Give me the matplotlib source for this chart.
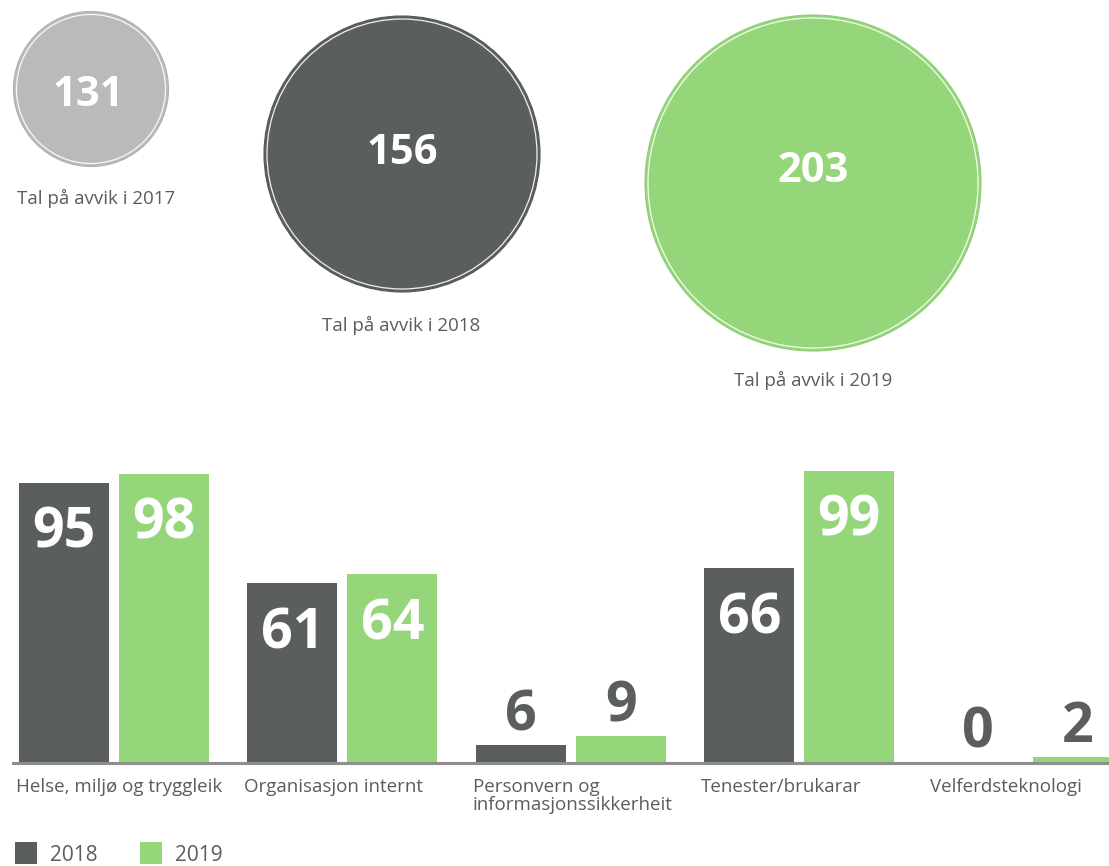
import matplotlib
matplotlib.use("Agg")
import matplotlib.pyplot as plt
from matplotlib.patches import Circle, Rectangle
import numpy as np

# ---------------- data ----------------
circle_years = ["2017", "2018", "2019"]
circle_totals = [131, 156, 203]
caption_prefix = "Tal på avvik i"

categories = ["Helse, miljø og tryggleik",
              "Organisasjon internt",
              "Personvern og\ninformasjonssikkerheit",
              "Tenester/brukarar",
              "Velferdsteknologi"]
series_names = ["2018", "2019"]
values_2018 = [95, 61, 6, 66, 0]
values_2019 = [98, 64, 9, 99, 2]

# ---------------- style ----------------
W, H, DPI = 1109, 866, 100
DARK = "#5b5e5f"
GREEN = "#96d67b"
LIGHT = "#bababa"
TEXT = "#5c5c5c"
AXIS = "#8e8e8e"
FONT = ["Open Sans", "DejaVu Sans"]
plt.rcParams["font.family"] = FONT

PX2PT = 72.0 / DPI

fig = plt.figure(figsize=(W / DPI, H / DPI), dpi=DPI)
fig.patch.set_facecolor("white")

# overlay axes in pixel coordinates (for circles, captions, legend)
ov = fig.add_axes([0, 0, 1, 1])
ov.set_xlim(0, W)
ov.set_ylim(H, 0)
ov.axis("off")

circle_fill = [LIGHT, DARK, GREEN]
circle_edge = ["#b0b0b0", "#555859", "#8ece73"]
circle_centers = [(91, 89), (402, 154), (813, 183)]
circle_radii = [77.5, 138, 168]
number_pos = [(88, 95), (402, 153), (813, 172)]
caption_pos = [(96, 198), (401, 325), (813, 380)]

for i, (year, total) in enumerate(zip(circle_years, circle_totals)):
    cx, cy = circle_centers[i]
    r = circle_radii[i]
    ov.add_patch(Circle((cx, cy), r, facecolor=circle_fill[i],
                        edgecolor=circle_edge[i], lw=0.8, zorder=2))
    ov.add_patch(Circle((cx, cy), r - 3, fill=False, edgecolor="white",
                        lw=0.9, alpha=0.9, zorder=3))
    nx, ny = number_pos[i]
    ov.text(nx, ny, str(total), ha="center", va="center", color="white",
            fontsize=30, fontweight="bold", zorder=4)
    tx, ty = caption_pos[i]
    ov.text(tx, ty, f"{caption_prefix} {year}", ha="center", va="center",
            color=TEXT, fontsize=13.5, zorder=4)

# ---------------- bar chart ----------------
base_px = 763
top_px = 440
px_per_unit = 2.95
group_px = 228.45
first_px = 114

ax = fig.add_axes([0, (H - base_px) / H, 1, (base_px - top_px) / H])
ax.patch.set_alpha(0)
ax.set_ylim(0, (base_px - top_px) / px_per_unit)
ax.set_xlim(-first_px / group_px, (W - first_px) / group_px)

x = np.arange(len(categories))
bw = 90 / group_px
off = 50 / group_px

ax.bar(x - off, values_2018, bw, color=DARK, zorder=2)
ax.bar(x + off, values_2019, bw, color=GREEN, zorder=2)

for s in ["top", "right", "left"]:
    ax.spines[s].set_visible(False)
ax.spines["bottom"].set_color(AXIS)
ax.spines["bottom"].set_linewidth(2.2)
ax.spines["bottom"].set_bounds(-(first_px - 13) / group_px, (W - first_px) / group_px)
ax.set_xticks([])
ax.set_yticks([])

for xs, vals in [(x - off, values_2018), (x + off, values_2019)]:
    for xi, v in zip(xs, vals):
        if v >= 20:
            ax.annotate(str(v), (xi, v), xytext=(0, -65 * PX2PT),
                        textcoords="offset points", ha="center", va="baseline",
                        color="white", fontsize=40, fontweight="bold", zorder=3)
        else:
            ax.annotate(str(v), (xi, v), xytext=(0, 15 * PX2PT),
                        textcoords="offset points", ha="center", va="baseline",
                        color=DARK, fontsize=40, fontweight="bold", zorder=3)

for xi, lab in zip(x, categories):
    ax.annotate(lab, (xi - off - bw / 2, 0), xytext=(-3 * PX2PT, -15 * PX2PT),
                textcoords="offset points", ha="left", va="top",
                color=TEXT, fontsize=13.5, linespacing=1.0)

# ---------------- legend ----------------
legend_colors = [DARK, GREEN]
legend_x = [15, 140]
for name, col, lx in zip(series_names, legend_colors, legend_x):
    ov.add_patch(Rectangle((lx, 842), 22, 22, facecolor=col, edgecolor="none"))
    ov.text(lx + 35, 861, name, ha="left", va="baseline", color=TEXT, fontsize=15)

fig.savefig("out.png", dpi=DPI, facecolor="white")
